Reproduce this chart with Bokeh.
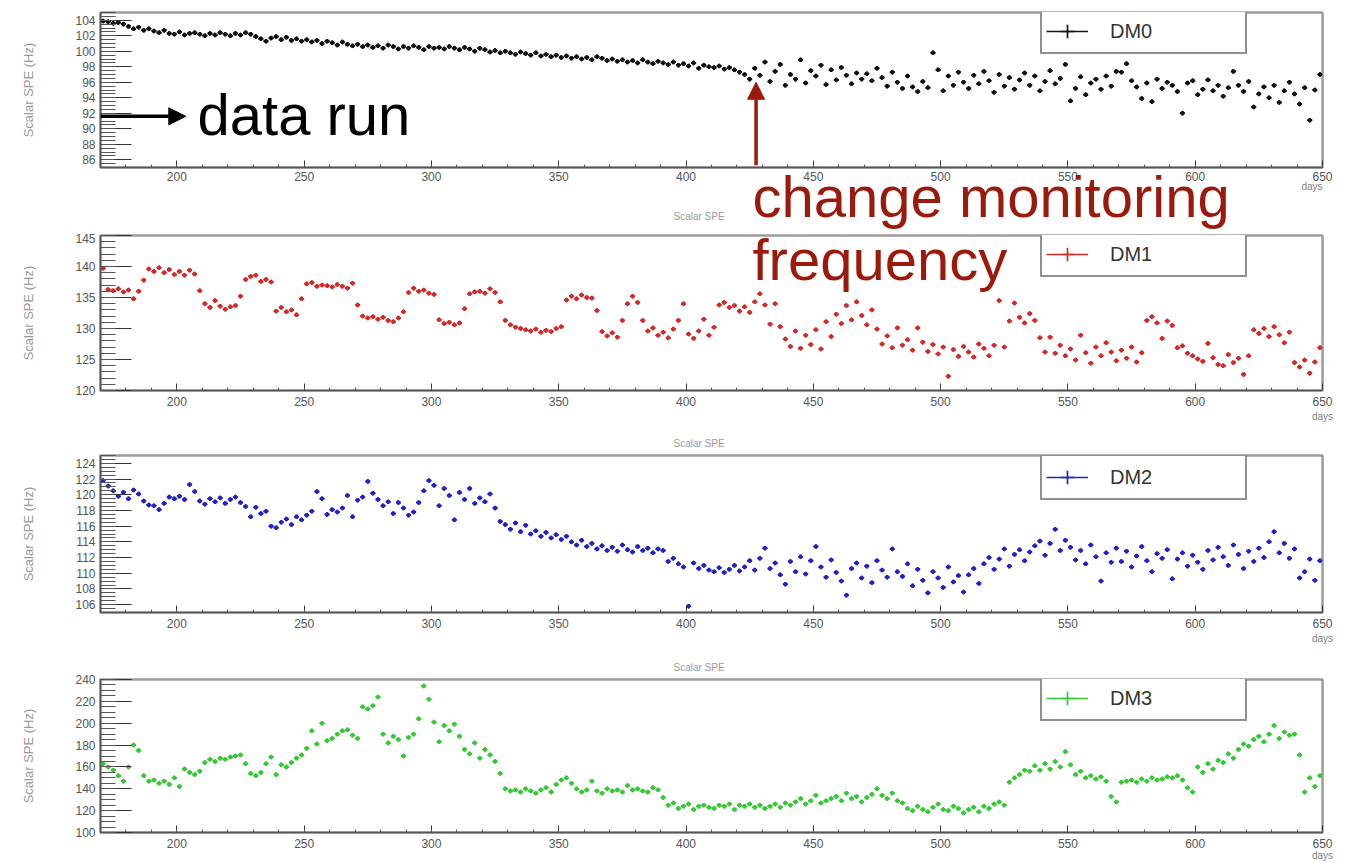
import math
from bokeh.plotting import figure
from bokeh.models import (Range1d, SingleIntervalTicker, Label, Arrow, NormalHead, Title,
                          Legend, LegendItem, ColumnDataSource)
from bokeh.layouts import column
from bokeh.embed import file_html
from bokeh.resources import INLINE

# ---------------- data (days and Scalar SPE rates in Hz) ----------------
days = [
    171, 173, 175, 177, 179, 181, 183, 185, 187, 189,
    191, 193, 195, 197, 199, 201, 203, 205, 207, 209,
    211, 213, 215, 217, 219, 221, 223, 225, 227, 229,
    231, 233, 235, 237, 239, 241, 243, 245, 247, 249,
    251, 253, 255, 257, 259, 261, 263, 265, 267, 269,
    271, 273, 275, 277, 279, 281, 283, 285, 287, 289,
    291, 293, 295, 297, 299, 301, 303, 305, 307, 309,
    311, 313, 315, 317, 319, 321, 323, 325, 327, 329,
    331, 333, 335, 337, 339, 341, 343, 345, 347, 349,
    351, 353, 355, 357, 359, 361, 363, 365, 367, 369,
    371, 373, 375, 377, 379, 381, 383, 385, 387, 389,
    391, 393, 395, 397, 399, 401, 403, 405, 407, 409,
    411, 413, 415, 417, 419, 421, 423, 425, 427, 429,
    431, 433, 435, 437, 439, 441, 443, 445, 447, 449,
    451, 453, 455, 457, 459, 461, 463, 465, 467, 469,
    471, 473, 475, 477, 479, 481, 483, 485, 487, 489,
    491, 493, 495, 497, 499, 501, 503, 505, 507, 509,
    511, 513, 515, 517, 519, 521, 523, 525, 527, 529,
    531, 533, 535, 537, 539, 541, 543, 545, 547, 549,
    551, 553, 555, 557, 559, 561, 563, 565, 567, 569,
    571, 573, 575, 577, 579, 581, 583, 585, 587, 589,
    591, 593, 595, 597, 599, 601, 603, 605, 607, 609,
    611, 613, 615, 617, 619, 621, 623, 625, 627, 629,
    631, 633, 635, 637, 639, 641, 643, 645, 647, 649,
]

dm0 = [
    103.9, 103.8, 103.6, 103.7, 103.5, 103.2, 102.9, 103.1, 102.7, 102.9,
    102.6, 102.4, 102.7, 102.3, 102.2, 102.5, 102.1, 102.3, 102.4, 102.2,
    102.0, 102.3, 102.1, 102.4, 102.2, 102.0, 102.3, 102.1, 102.4, 102.2,
    101.9, 101.6, 101.3, 101.7, 101.9, 101.5, 101.8, 101.4, 101.6, 101.3,
    101.5, 101.2, 101.4, 101.0, 101.3, 101.1, 100.8, 101.2, 100.9, 100.7,
    100.9, 100.6, 100.8, 100.5, 100.7, 100.4, 100.8, 100.6, 100.3, 100.6,
    100.4, 100.7, 100.5, 100.2, 100.6, 100.4, 100.5, 100.3, 100.6, 100.4,
    100.2, 100.5, 100.3, 100.0, 100.4, 100.2, 99.9, 100.1, 99.8, 100.0,
    99.8, 99.6, 99.9, 99.7, 99.5, 99.8, 99.4, 99.6, 99.3, 99.5,
    99.2, 99.4, 99.1, 99.3, 99.0, 99.2, 98.9, 99.3, 99.1, 98.8,
    99.0, 98.7, 98.9, 98.6, 98.8, 98.5, 98.9, 98.6, 98.4, 98.7,
    98.5, 98.3, 98.6, 98.2, 98.4, 98.1, 98.5, 97.8, 98.2, 98.0,
    97.9, 98.1, 97.7, 97.9, 97.6, 97.3, 97.0, 96.4, 97.8, 96.9,
    98.6, 96.1, 97.4, 98.3, 95.6, 97.0, 96.4, 98.9, 95.9, 97.5,
    96.8, 98.2, 95.7, 97.6, 96.3, 97.9, 96.9, 95.8, 97.2, 96.4,
    97.1, 96.2, 97.8, 96.6, 95.5, 97.3, 96.0, 95.2, 96.8, 95.4,
    94.8, 96.1, 95.3, 99.8, 97.6, 94.9, 96.8, 95.6, 97.3, 96.0,
    95.2, 96.9, 95.8, 97.4, 96.2, 94.7, 97.0, 95.5, 96.6, 95.1,
    96.3, 97.2, 95.6, 96.8, 94.9, 96.1, 97.5, 95.8, 96.5, 98.3,
    93.6, 95.2, 96.7, 94.4, 95.9, 96.4, 95.1, 96.8, 95.5, 97.4,
    97.3, 98.4, 96.2, 95.4, 93.9, 95.9, 93.5, 96.4, 95.2, 96.0,
    95.6, 94.8, 92.0, 95.9, 96.2, 94.4, 95.1, 96.3, 94.9, 95.6,
    94.2, 95.3, 97.4, 95.6, 94.8, 96.1, 92.8, 94.5, 95.4, 94.0,
    95.6, 93.4, 94.9, 96.0, 94.5, 93.2, 95.3, 91.1, 95.0, 97.0,
]

dm1 = [
    139.7, 136.3, 136.1, 136.4, 135.9, 136.2, 134.8, 136.0, 137.8, 139.6,
    139.2, 139.8, 139.0, 139.5, 138.7, 139.2, 138.6, 139.4, 138.8, 136.1,
    134.0, 133.4, 134.5, 133.6, 133.1, 133.5, 133.7, 135.2, 137.9, 138.4,
    138.6, 137.6, 137.9, 137.5, 132.8, 133.4, 132.7, 133.0, 132.2, 134.8,
    137.2, 137.4, 136.8, 137.0, 136.9, 136.7, 137.1, 136.8, 136.5, 137.3,
    133.8, 132.0, 131.7, 131.9, 131.5, 131.8, 131.3, 131.1, 131.7, 132.7,
    135.8, 136.5, 136.0, 136.2, 135.7, 135.5, 131.4, 130.8, 131.0, 130.6,
    130.9, 133.2, 135.6, 135.9, 136.0, 135.7, 136.4, 135.8, 134.3, 131.3,
    130.6, 130.2, 130.0, 129.8, 129.6, 129.9, 129.4, 129.7, 129.5, 130.0,
    130.3, 134.6, 135.2, 134.8, 135.4, 135.0, 134.9, 132.9, 129.5, 128.8,
    129.3, 128.6, 131.3, 134.0, 135.2, 134.2, 131.3, 129.6, 130.1, 128.9,
    129.4, 128.5, 129.9, 131.3, 134.0, 129.1, 128.4, 129.6, 131.5, 128.9,
    130.2, 133.8, 134.2, 133.4, 133.7, 132.8, 133.5, 132.6, 134.3, 135.6,
    133.8, 130.7, 134.0, 130.3, 128.3, 127.1, 129.6, 126.8, 128.9, 127.4,
    129.8, 126.7, 131.1, 128.7, 132.3, 130.8, 133.7, 131.4, 134.3, 132.1,
    130.6, 133.0, 129.9, 127.5, 128.8, 126.9, 130.1, 127.3, 128.2, 126.5,
    130.1, 127.8, 126.3, 127.4, 125.9, 127.0, 122.3, 126.6, 125.5, 127.1,
    126.2, 125.4, 127.5, 126.8, 125.6, 127.3, 134.5, 127.0, 131.2, 134.1,
    131.8, 130.9, 132.4, 131.3, 128.5, 126.2, 128.6, 126.0, 127.3, 125.6,
    126.7, 124.9, 128.9, 126.1, 124.4, 127.0, 125.6, 127.7, 126.2, 124.8,
    126.5, 125.2, 127.0, 124.6, 126.1, 131.3, 131.9, 130.9, 128.4, 131.2,
    130.5, 126.9, 127.2, 126.0, 125.6, 125.1, 124.7, 127.6, 125.3, 124.2,
    124.0, 125.8, 124.5, 125.2, 122.6, 125.6, 129.8, 129.2, 130.0, 128.7,
    130.3, 129.0, 127.7, 129.4, 124.5, 123.8, 124.9, 122.8, 124.6, 126.9,
]

dm2 = [
    121.8, 121.1, 120.5, 119.8, 120.3, 119.5, 120.6, 120.1, 119.2, 118.7,
    118.6, 118.1, 118.9, 119.7, 119.5, 119.8, 119.4, 121.3, 120.4, 119.2,
    118.8, 119.5, 119.1, 119.6, 118.9, 119.4, 119.7, 119.0, 118.5, 117.2,
    118.4, 117.6, 117.9, 116.0, 115.8, 116.5, 116.9, 116.2, 117.2, 116.8,
    117.4, 117.9, 120.4, 119.5, 117.5, 118.1, 117.8, 118.3, 119.9, 117.2,
    119.3, 119.7, 121.7, 120.2, 119.4, 118.6, 119.1, 117.6, 119.0, 118.3,
    117.4, 117.8, 119.0, 120.5, 121.8, 121.2, 118.6, 120.8, 119.9, 116.8,
    120.3, 119.4, 120.8, 118.9, 119.6, 119.1, 120.1, 118.3, 116.6, 116.2,
    115.6, 116.4, 115.3, 116.1, 115.0, 115.4, 114.7, 115.2, 114.5, 114.9,
    114.3, 114.7, 114.0, 113.6, 114.2, 113.4, 113.8, 113.1, 113.5, 112.9,
    113.3, 112.8, 113.6, 113.0, 112.7, 113.4, 112.9, 113.2, 112.6, 113.1,
    112.9, 111.5, 111.9, 111.2, 110.8, 105.8, 111.3, 110.6, 111.0, 110.4,
    110.2, 110.7, 110.1, 110.5, 111.0, 110.3, 110.8, 111.6, 110.4, 111.9,
    113.2, 110.6, 111.3, 109.8, 108.6, 111.5, 110.2, 112.1, 109.9, 111.6,
    113.4, 110.8, 109.5, 111.7, 110.1, 109.0, 107.2, 110.6, 111.3, 109.4,
    110.9, 108.8, 111.6, 110.4, 109.5, 113.1, 110.2, 109.6, 111.2, 108.4,
    110.5, 109.1, 107.5, 110.2, 109.4, 108.2, 110.8, 108.9, 109.7, 107.6,
    109.8, 110.6, 108.7, 111.2, 112.0, 110.5, 111.8, 113.1, 110.9, 112.4,
    113.0, 111.6, 112.7, 113.5, 114.1, 112.3, 113.8, 115.6, 112.9, 114.2,
    113.3, 111.7, 112.9, 111.2, 113.6, 112.1, 109.0, 112.6, 111.4, 113.2,
    111.5, 112.8, 110.8, 112.2, 113.4, 111.6, 110.2, 112.5, 111.9, 113.0,
    109.3, 111.8, 112.6, 110.9, 112.3, 111.4, 110.5, 112.9, 111.7, 113.3,
    112.1, 111.0, 113.6, 112.4, 110.6, 112.8, 111.5, 113.2, 112.0, 114.0,
    115.3, 112.6, 113.8, 111.9, 113.1, 109.4, 110.2, 111.8, 109.1, 111.6,
]

dm3 = [
    163, 160, 157, 152, 147, 160, 180, 175, 152, 147,
    148, 145, 147, 144, 150, 142, 158, 155, 153, 156,
    164, 167, 165, 168, 167, 169, 170, 171, 163, 154,
    152, 155, 163, 169, 153, 162, 160, 164, 168, 171,
    177, 193, 181, 200, 184, 186, 190, 193, 194, 189,
    186, 215, 213, 216, 224, 190, 182, 188, 185, 170,
    187, 190, 204, 234, 222, 201, 183, 198, 193, 199,
    188, 176, 172, 182, 168, 176, 171, 165, 154, 140,
    138, 139, 137, 140, 138, 136, 139, 141, 137, 144,
    148, 150, 145, 140, 137, 139, 147, 138, 136, 140,
    138, 139, 137, 143, 139, 140, 138, 137, 141, 139,
    132, 125, 127, 122, 124, 126, 121, 124, 125, 123,
    122, 125, 124, 126, 121, 125, 124, 126, 123, 125,
    122, 124, 126, 123, 127, 125, 128, 131, 126, 129,
    134, 127, 129, 131, 133, 129, 136, 131, 133, 128,
    132, 135, 140, 134, 131, 136, 129, 127, 122, 120,
    124, 121, 119, 123, 126, 121, 120, 124, 122, 118,
    121, 123, 119, 124, 122, 126, 128, 125, 146, 150,
    153, 157, 156, 161, 157, 163, 158, 165, 160, 174,
    162, 153, 156, 150, 152, 149, 151, 147, 133, 128,
    146, 147, 148, 146, 149, 147, 150, 148, 149, 151,
    150, 152, 148, 141, 137, 160, 155, 163, 158, 166,
    164, 172, 168, 176, 181, 179, 185, 188, 183, 190,
    198, 186, 192, 189, 190, 171, 137, 150, 142, 152,
]

series_names = ["DM0", "DM1", "DM2", "DM3"]
series_values = [dm0, dm1, dm2, dm3]
series_colors = ["#111111", "#d42a2a", "#2323c4", "#35c935"]
y_ranges = [(85, 105), (120, 145), (105, 125), (100, 240)]
y_intervals = [2, 5, 2, 20]
y_minor = [4, 5, 4, 4]

# layout (px): border top, frame height, border bottom
b_top = [12, 2, 27, 27]
frame_h = [155, 155, 157, 154]
b_bottom = [66, 38, 40, 30]
legend_y = [113, 113, 112, 111]
days_standoff = [2, 2, 2, -1]
xlabel_standoff = [4, 6, 6, 6]

FONT = "Liberation Sans"
DARKRED = "#9b1a0c"
GREY_TXT = "#9a9a9a"
W = 1345

figs = []
for i in range(4):
    y0, y1 = y_ranges[i]
    H = b_top[i] + frame_h[i] + b_bottom[i]
    p = figure(width=W, height=H, output_backend="svg", toolbar_location=None,
               x_range=Range1d(170, 650), y_range=Range1d(y0, y1),
               min_border_left=100, min_border_right=23,
               min_border_top=b_top[i], min_border_bottom=b_bottom[i])
    p.grid.visible = False
    p.outline_line_color = "#9c9c9c"
    p.outline_line_width = 2.5
    p.background_fill_color = "white"
    p.border_fill_color = "white"

    xs = days
    vals = series_values[i]
    color = series_colors[i]
    src = ColumnDataSource(dict(x=xs, y=vals,
                                x0=[d - 1.0 for d in xs], x1=[d + 1.0 for d in xs]))
    seg = p.segment(x0="x0", y0="y", x1="x1", y1="y", source=src,
                    line_color=color, line_width=1.5)
    p.scatter(x="x", y="y", source=src, marker="circle", size=3.6,
              fill_color=color, line_color=color)
    pts = p.scatter(x="x", y="y", source=src, marker="cross", size=4.5,
                    line_color=color, line_width=1.7)

    # axes in ROOT style
    p.xaxis.ticker = SingleIntervalTicker(interval=50, num_minor_ticks=5)
    p.yaxis.ticker = SingleIntervalTicker(interval=y_intervals[i], num_minor_ticks=y_minor[i])
    for ax in (p.xaxis[0], p.yaxis[0]):
        ax.axis_line_color = "#555555"
        ax.axis_line_width = 1.5
        ax.major_tick_out = 0
        ax.minor_tick_out = 0
        ax.major_tick_line_color = "#333333"
        ax.minor_tick_line_color = "#555555"
        ax.major_label_text_font = FONT
        ax.major_label_text_font_size = "12px"
        ax.major_label_text_color = "#555555"
        ax.axis_label_text_font = FONT
        ax.axis_label_text_font_style = "normal"
    p.xaxis.major_tick_in = 7
    p.xaxis.minor_tick_in = 3
    p.xaxis.major_label_standoff = xlabel_standoff[i]
    p.yaxis.major_tick_in = 31
    p.yaxis.minor_tick_in = 15
    p.yaxis.major_label_standoff = 5

    # axis titles ("days" of the first panel is placed with the texts below it)
    xa = p.xaxis[0]
    if i > 0:
        xa.axis_label = "days"
        xa.axis_label_text_font_size = "10px"
        xa.axis_label_text_color = "#808080"
        xa.axis_label_standoff = days_standoff[i]
        try:
            xa.axis_label_align = "end"
        except Exception:
            pass
    ya = p.yaxis[0]
    ya.axis_label = "Scalar SPE (Hz)"
    ya.axis_label_text_font_size = "13px"
    ya.axis_label_text_color = GREY_TXT
    ya.axis_label_standoff = 36

    # legend box
    leg = Legend(items=[LegendItem(label=series_names[i], renderers=[seg, pts])],
                 location=(940, legend_y[i]), orientation="vertical",
                 border_line_color="#222222", border_line_width=2,
                 background_fill_color="white", background_fill_alpha=1.0,
                 label_text_font=FONT, label_text_font_size="20px", label_text_color="#333333",
                 glyph_width=42, glyph_height=34, label_standoff=22, label_width=131,
                 padding=4, margin=0, spacing=0)
    p.add_layout(leg)
    figs.append(p)

p0, p1, p2, p3 = figs

# panel titles "Scalar SPE" for the lower two panels
for p in (p2, p3):
    p.title.text = "Scalar SPE"
    p.title.align = "left"
    p.title.offset = 573
    p.title.vertical_align = "top"
    p.title.standoff = 10
    p.title.text_font = FONT
    p.title.text_font_size = "10px"
    p.title.text_font_style = "normal"
    p.title.text_color = GREY_TXT

# texts below the first frame: "days", "change monitoring" and the title of panel 2
p0.add_layout(Title(text="days", align="right", offset=0, vertical_align="bottom",
                    standoff=-10, text_font=FONT, text_font_size="10px",
                    text_font_style="normal", text_color="#808080"), "below")
p0.add_layout(Title(text="change monitoring", align="left", offset=652, vertical_align="bottom",
                    standoff=-50, text_font=FONT, text_font_size="58px",
                    text_font_style="normal", text_color=DARKRED), "below")
p0.add_layout(Title(text="Scalar SPE", align="left", offset=573, vertical_align="bottom",
                    standoff=11, text_font=FONT, text_font_size="10px",
                    text_font_style="normal", text_color=GREY_TXT), "below")

# "data run" arrow and text (inside the first frame)
p0.add_layout(Arrow(end=NormalHead(size=17, fill_color="black", line_color="black"),
                    x_start=170, y_start=91.6, x_end=203.5, y_end=91.6,
                    line_color="black", line_width=3.5))
p0.add_layout(Label(x=97, y=53, x_units="screen", y_units="screen", text="data run",
                    text_font=FONT, text_font_size="58px", text_color="black",
                    text_baseline="alphabetic"))

# "change monitoring frequency" arrow, and "frequency" inside the second frame
p0.add_layout(Arrow(end=NormalHead(size=17, fill_color=DARKRED, line_color=DARKRED),
                    x_start=427.5, y_start=85.3, x_end=427.5, y_end=96.0,
                    line_color=DARKRED, line_width=3.5))
p1.add_layout(Label(x=652, y=131, x_units="screen", y_units="screen", text="frequency",
                    text_font=FONT, text_font_size="58px", text_color=DARKRED,
                    text_baseline="alphabetic"))

layout = column(*figs, spacing=0)
open("out.html", "w").write(file_html(layout, INLINE))
